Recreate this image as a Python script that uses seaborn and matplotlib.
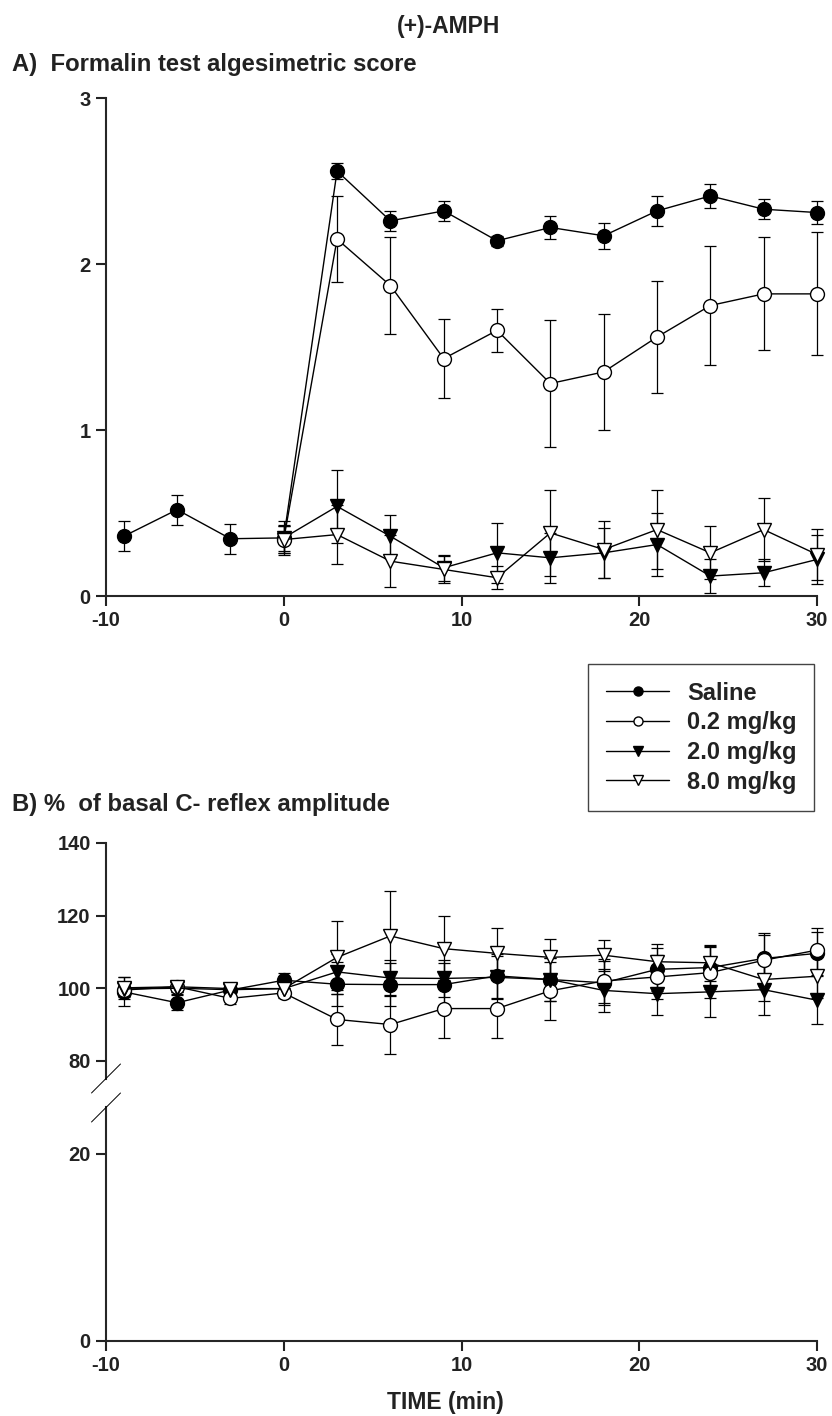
import numpy as np
import pandas as pd
import seaborn as sns
import matplotlib.pyplot as plt
from matplotlib.lines import Line2D

# ---- data ----
groups = ['Saline', '0.2 mg/kg', '2.0 mg/kg', '8.0 mg/kg']

# A) formalin score
time_a_sal = [-9, -6, -3, 0, 3, 6, 9, 12, 15, 18, 21, 24, 27, 30]
time_a = [0, 3, 6, 9, 12, 15, 18, 21, 24, 27, 30]
score_sal = [0.36, 0.52, 0.345, 0.35, 2.56, 2.26, 2.32, 2.14, 2.22, 2.17, 2.32, 2.41, 2.33, 2.31]
se_sal = [0.09, 0.09, 0.09, 0.10, 0.05, 0.06, 0.06, 0.03, 0.07, 0.08, 0.09, 0.07, 0.06, 0.07]
score_02 = [0.34, 2.15, 1.87, 1.43, 1.60, 1.28, 1.35, 1.56, 1.75, 1.82, 1.82]
se_02 = [0.08, 0.26, 0.29, 0.24, 0.13, 0.38, 0.35, 0.34, 0.36, 0.34, 0.37]
score_20 = [0.35, 0.54, 0.36, 0.17, 0.26, 0.23, 0.26, 0.31, 0.12, 0.14, 0.22]
se_20 = [0.08, 0.22, 0.13, 0.08, 0.18, 0.15, 0.15, 0.19, 0.10, 0.08, 0.15]
score_80 = [0.34, 0.37, 0.21, 0.16, 0.11, 0.38, 0.28, 0.40, 0.26, 0.40, 0.25]
se_80 = [0.08, 0.18, 0.155, 0.08, 0.07, 0.26, 0.17, 0.24, 0.16, 0.19, 0.155]

# B) % of basal C-reflex amplitude
time_b = [-9, -6, -3, 0, 3, 6, 9, 12, 15, 18, 21, 24, 27, 30]
amp_sal = [99.0, 96.0, 99.5, 102.2, 101.1, 101.0, 101.0, 103.4, 102.4, 101.5, 105.2, 105.7, 108.2, 109.6]
ase_sal = [4.0, 2.0, 2.0, 2.0, 6.0, 6.0, 6.0, 6.0, 6.0, 6.0, 6.0, 6.0, 7.0, 6.0]
amp_02 = [99.5, 100.4, 97.2, 98.7, 91.4, 90.0, 94.4, 94.4, 99.3, 102.0, 103.1, 104.3, 107.7, 110.5]
ase_02 = [2.0, 1.5, 1.5, 1.5, 7.0, 8.0, 8.0, 8.0, 8.0, 6.0, 6.0, 7.0, 7.0, 6.0]
amp_20 = [99.8, 100.0, 99.6, 99.9, 104.5, 102.8, 102.7, 103.0, 102.4, 99.4, 98.5, 99.0, 99.6, 96.7]
ase_20 = [2.0, 1.5, 1.5, 1.5, 5.0, 5.0, 5.0, 6.0, 6.0, 6.0, 6.0, 7.0, 7.0, 6.6]
amp_80 = [100.1, 100.4, 99.9, 99.9, 108.5, 114.4, 110.9, 109.6, 108.5, 109.1, 107.3, 107.0, 102.4, 103.3]
ase_80 = [3.0, 1.5, 1.5, 1.5, 10.0, 12.4, 9.0, 7.0, 5.0, 4.3, 5.0, 5.0, 6.0, 6.0]

styles = {
    'Saline': dict(marker='o', markerfacecolor='black'),
    '0.2 mg/kg': dict(marker='o', markerfacecolor='white'),
    '2.0 mg/kg': dict(marker='v', markerfacecolor='black'),
    '8.0 mg/kg': dict(marker='v', markerfacecolor='white'),
}

sns.set_style('ticks')
plt.rcParams['font.family'] = ['Liberation Sans', 'DejaVu Sans']
plt.rcParams['font.weight'] = 'bold'
plt.rcParams['axes.unicode_minus'] = False

TXT = '#222222'
W, H = 832, 1416
fig = plt.figure(figsize=(W / 100, H / 100), dpi=100, facecolor='white')


def px_axes(left, right, top, bottom):
    return fig.add_axes([left / W, 1 - bottom / H, (right - left) / W, (bottom - top) / H])


def settings_plot(ax, bottom=True):
    for s in ['top', 'right']:
        ax.spines[s].set_visible(False)
    ax.spines['left'].set_linewidth(1.5)
    ax.spines['bottom'].set_linewidth(1.5)
    ax.spines['bottom'].set_visible(bottom)
    ax.tick_params(direction='out', length=7, width=1.5, pad=4, labelsize=14.5, colors=TXT)
    ax.set_facecolor('white')
    ax.set_xlabel('')
    ax.set_ylabel('')
    return ax


def draw(ax, x, y, se, name, label=True):
    d = pd.DataFrame({'t': x, 'v': y})
    ax.errorbar(x, y, yerr=se, fmt='none', ecolor='black', elinewidth=0.9,
                capsize=4, capthick=0.9, clip_on=False, zorder=2)
    sns.lineplot(data=d, x='t', y='v', ax=ax, color='black', linewidth=1.0,
                 markersize=10, markeredgecolor='black', markeredgewidth=1.0,
                 clip_on=False, label=name if label else None, legend=False,
                 zorder=3, **styles[name])


# ---- panel A ----
axA = px_axes(106, 817, 98, 596)
draw(axA, time_a_sal, score_sal, se_sal, 'Saline')
draw(axA, time_a, score_02, se_02, '0.2 mg/kg')
draw(axA, time_a, score_20, se_20, '2.0 mg/kg')
draw(axA, time_a, score_80, se_80, '8.0 mg/kg')
axA.set_xlim(-10, 30)
axA.set_ylim(0, 3)
axA.set_xticks([-10, 0, 10, 20, 30])
axA.set_yticks([0, 1, 2, 3])
settings_plot(axA)

# ---- panel B (broken axis) ----
axB1 = px_axes(106, 817, 843, 1079)
axB2 = px_axes(106, 817, 1107, 1341)
b_series = [(amp_sal, ase_sal, 'Saline'), (amp_02, ase_02, '0.2 mg/kg'),
            (amp_20, ase_20, '2.0 mg/kg'), (amp_80, ase_80, '8.0 mg/kg')]
for y, se, name in b_series:
    draw(axB1, time_b, y, se, name, label=False)
axB1.set_xlim(-10, 30)
axB1.set_ylim(75, 140)
axB1.set_yticks([80, 100, 120, 140])
settings_plot(axB1, bottom=False)
axB1.tick_params(axis='x', bottom=False, labelbottom=False)

axB2.set_xlim(-10, 30)
axB2.set_ylim(0, 25)
axB2.set_xticks([-10, 0, 10, 20, 30])
axB2.set_yticks([0, 20])
settings_plot(axB2)

# break marks on the y axis
for yc in [1078.5, 1107.5]:
    fig.add_artist(Line2D([(106 - 14.5) / W, (106 + 14.5) / W],
                          [1 - (yc + 14.5) / H, 1 - (yc - 14.5) / H],
                          transform=fig.transFigure, color='black', linewidth=0.7))

# ---- texts ----
fig.text(449 / W, 1 - 26 / H, '(+)-AMPH', ha='center', va='center', fontsize=16.5,
         fontweight='bold', color=TXT)
fig.text(12 / W, 1 - 65 / H, 'A)  Formalin test algesimetric score', ha='left', va='center',
         fontsize=17.2, fontweight='bold', color=TXT)
fig.text(12 / W, 1 - 805 / H, 'B) %  of basal C- reflex amplitude', ha='left', va='center',
         fontsize=17.2, fontweight='bold', color=TXT)
fig.text(445 / W, 1 - 1402 / H, 'TIME (min)', ha='center', va='center', fontsize=16.5,
         fontweight='bold', color=TXT)

# ---- legend ----
handles, labels = axA.get_legend_handles_labels()
leg = fig.legend(handles, labels, loc='upper left',
                 bbox_to_anchor=(588 / W, 1 - 664 / H), bbox_transform=fig.transFigure,
                 frameon=True, fancybox=False, edgecolor='#444444', framealpha=1,
                 fontsize=17, handlelength=2.7, markerscale=0.65, borderpad=0.75,
                 labelspacing=0.28, handletextpad=0.75, borderaxespad=0)
leg.get_frame().set_linewidth(1.0)
for t in leg.get_texts():
    t.set_fontweight('bold')
    t.set_color(TXT)

fig.savefig('out.png', dpi=100, facecolor='white')
